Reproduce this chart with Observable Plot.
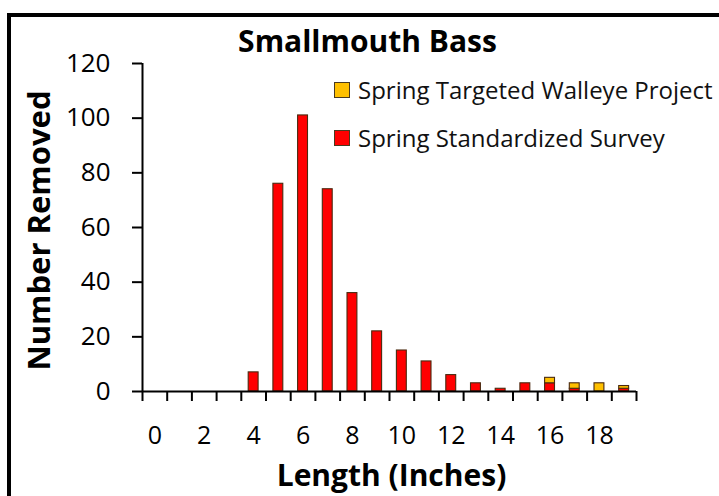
<!DOCTYPE html>
<html>
<head>
<meta charset="utf-8">
<script src="https://cdn.jsdelivr.net/npm/d3@7"></script>
<script src="https://cdn.jsdelivr.net/npm/@observablehq/plot@0.6"></script>
<style>
  html, body { margin: 0; padding: 0; background: #fff; }
  #wrap { position: relative; width: 719px; height: 496px; overflow: hidden; font-family: "Open Sans", sans-serif; }
  #frame { position: absolute; left: 7px; top: 13px; width: 800px; height: 600px; border-left: 4px solid #000; border-top: 4px solid #000; box-sizing: border-box; }
  #legend { position: absolute; left: 334px; top: 0; font-size: 24px; color: #111; }
  .item { position: absolute; left: 0; white-space: nowrap; display: flex; align-items: center; }
  .sw { width: 14px; height: 14px; border: 1px solid #4a3a20; margin-right: 8px; }
  svg { position: absolute; left: 0; top: 0; }
</style>
</head>
<body>
<div id="wrap">
  <div id="frame"></div>
  <div id="chart"></div>
  <div id="legend"></div>
</div>
<script>
const lengths = [0,1,2,3,4,5,6,7,8,9,10,11,12,13,14,15,16,17,18,19];
const standardized = [0,0,0,0,7,76,101,74,36,22,15,11,6,3,1,3,3,1,0,1];
const walleye =      [0,0,0,0,0,0,0,0,0,0,0,0,0,0,0,0,2,2,3,1];
const seriesNames = ["Spring Standardized Survey", "Spring Targeted Walleye Project"];
const seriesColors = ["#FF0000", "#FFC000"];
const legendOrder = ["Spring Targeted Walleye Project", "Spring Standardized Survey"];
const yTicks = [0,20,40,60,80,100,120];
const xTickLabels = [0,2,4,6,8,10,12,14,16,18];
const title = "Smallmouth Bass";
const xTitle = "Length (Inches)";
const yTitle = "Number Removed";

const tidy = [];
lengths.forEach((l, i) => tidy.push({len: l, series: seriesNames[0], count: standardized[i]}));
lengths.forEach((l, i) => tidy.push({len: l, series: seriesNames[1], count: walleye[i]}));

const boundaries = d3.range(0, lengths.length + 1);

const chart = Plot.plot({
  width: 719,
  height: 496,
  marginLeft: 142,
  marginRight: 83,
  marginTop: 63,
  marginBottom: 105,
  style: {fontFamily: "Open Sans", background: "transparent", overflow: "visible", color: "#000"},
  x: {domain: [0, lengths.length], axis: null},
  y: {domain: [0, 120], axis: null},
  color: {domain: seriesNames, range: seriesColors},
  marks: [
    Plot.rectY(tidy, Plot.stackY({
      x1: "len", x2: d => d.len + 1, y: "count", fill: "series",
      insetLeft: 7.4, insetRight: 7.4,
      stroke: "#4a2a10", strokeWidth: 1.1
    })),
    Plot.ruleX([0], {stroke: "#000", strokeWidth: 2}),
    Plot.ruleY([0], {stroke: "#000", strokeWidth: 2}),
    Plot.axisY({ticks: yTicks, tickSize: 10, tickPadding: 22, fontSize: 26, label: null, strokeWidth: 2, stroke: "#000", fill: "#000"}),
    Plot.axisX({ticks: boundaries, tickSize: 10, tickFormat: () => "", label: null, strokeWidth: 2, stroke: "#000"}),
    Plot.axisX({ticks: xTickLabels.map(v => v + 0.5), tickSize: 0, tickPadding: 35, tickFormat: d => String(d - 0.5), fontSize: 25, label: null, fill: "#000"}),
    Plot.text([title], {frameAnchor: "top", dx: -22, dy: -12, lineAnchor: "bottom", fontSize: 30, fontWeight: "bold", fill: "#000"}),
    Plot.text([xTitle], {frameAnchor: "bottom", dx: 2, dy: 94, lineAnchor: "bottom", fontSize: 30, fontWeight: "bold", fill: "#000"}),
    Plot.text([yTitle], {frameAnchor: "left", textAnchor: "middle", dx: -102, dy: 3, rotate: -90, lineAnchor: "middle", fontSize: 31, fontWeight: "bold", fill: "#000"})
  ]
});
document.getElementById("chart").appendChild(chart);

const legend = document.getElementById("legend");
const legendTops = [73, 121];
legendOrder.forEach((name, i) => {
  const item = document.createElement("div");
  item.className = "item";
  item.style.top = legendTops[i] + "px";
  const sw = document.createElement("div");
  sw.className = "sw";
  sw.style.background = seriesColors[seriesNames.indexOf(name)];
  const tx = document.createElement("span");
  tx.textContent = name;
  item.appendChild(sw);
  item.appendChild(tx);
  legend.appendChild(item);
});
</script>
</body>
</html>
